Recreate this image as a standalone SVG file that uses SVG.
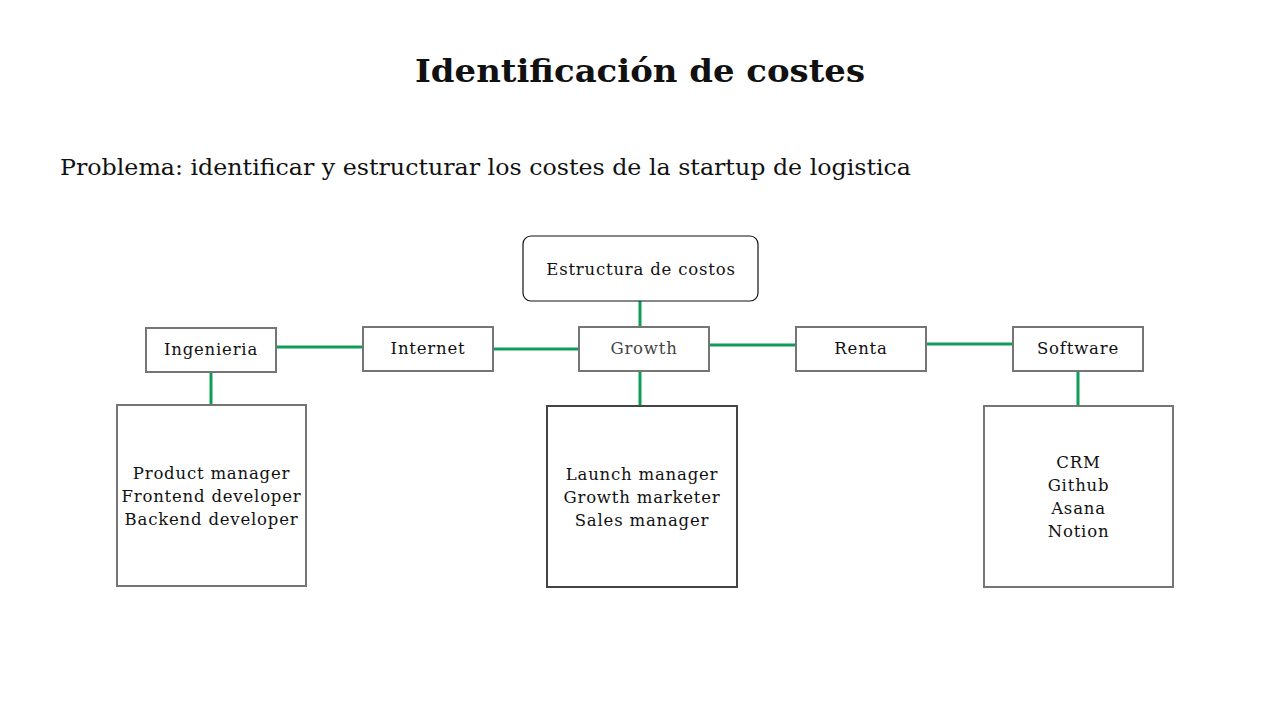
<svg xmlns="http://www.w3.org/2000/svg" width="1280" height="720" viewBox="0 0 1280 720">
<style>
text{font-family:"DejaVu Serif","Liberation Serif",serif;fill:#111}
.t{font-size:16.5px;text-anchor:middle;letter-spacing:0.8px}
.n{fill:#fff;stroke:#757575;stroke-width:2}
.c{stroke:#0f9d58;stroke-width:3;fill:none}
</style>
<rect width="1280" height="720" fill="#fff"/>
<text x="640" y="82" font-size="32" font-weight="bold" text-anchor="middle" textLength="450" lengthAdjust="spacingAndGlyphs">Identificación de costes</text>
<text x="60" y="175" font-size="23" textLength="851" lengthAdjust="spacingAndGlyphs">Problema: identificar y estructurar los costes de la startup de logistica</text>
<g id="connectors">
<line class="c" x1="640" y1="301" x2="640" y2="327"/>
<line class="c" x1="640" y1="371" x2="640" y2="406"/>
<line class="c" x1="276" y1="347" x2="363" y2="347"/>
<line class="c" x1="493" y1="349" x2="579" y2="349"/>
<line class="c" x1="709" y1="345" x2="796" y2="345"/>
<line class="c" x1="926" y1="344" x2="1013" y2="344"/>
<line class="c" x1="211" y1="372" x2="211" y2="405"/>
<line class="c" x1="1078" y1="371" x2="1078" y2="406"/>
</g>
<g id="estructura">
<rect x="523" y="236" width="235" height="65" rx="8" fill="#fff" stroke="#111" stroke-width="1.2"/>
<text class="t" x="641" y="275">Estructura de costos</text>
</g>
<g id="ingenieria">
<rect class="n" x="146" y="328" width="130" height="44"/>
<text class="t" x="211" y="355">Ingenieria</text>
</g>
<g id="internet">
<rect class="n" x="363" y="327" width="130" height="44"/>
<text class="t" x="428" y="354">Internet</text>
</g>
<g id="growth">
<rect class="n" x="579" y="327" width="130" height="44"/>
<text class="t" x="644" y="354" style="fill:#444">Growth</text>
</g>
<g id="renta">
<rect class="n" x="796" y="327" width="130" height="44"/>
<text class="t" x="861" y="354">Renta</text>
</g>
<g id="software">
<rect class="n" x="1013" y="327" width="130" height="44"/>
<text class="t" x="1078" y="354">Software</text>
</g>
<g id="ingenieria-roles">
<rect class="n" x="117" y="405" width="189" height="181"/>
<text class="t" x="211.5" y="479">Product manager</text>
<text class="t" x="211.5" y="502">Frontend developer</text>
<text class="t" x="211.5" y="525">Backend developer</text>
</g>
<g id="growth-roles">
<rect class="n" x="547" y="406" width="190" height="181" style="stroke:#444"/>
<text class="t" x="642" y="480">Launch manager</text>
<text class="t" x="642" y="503">Growth marketer</text>
<text class="t" x="642" y="526">Sales manager</text>
</g>
<g id="software-tools">
<rect class="n" x="984" y="406" width="189" height="181"/>
<text class="t" x="1078.5" y="468">CRM</text>
<text class="t" x="1078.5" y="491">Github</text>
<text class="t" x="1078.5" y="514">Asana</text>
<text class="t" x="1078.5" y="537">Notion</text>
</g>
</svg>
